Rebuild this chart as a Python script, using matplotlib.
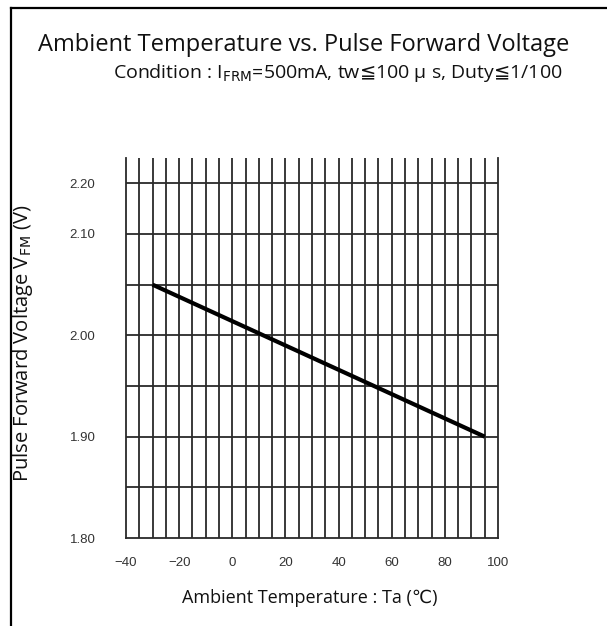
"""
Ambient temperature vs. pulse forward voltage (datasheet style chart)
"""

import numpy as np
import matplotlib
matplotlib.use('Agg')
import matplotlib.pyplot as plt
from matplotlib.lines import Line2D

# data
temp_ta   = [-30, 95]
volt_vfm  = [2.05, 1.90]

x_ticks   = [-40, -20, 0, 20, 40, 60, 80, 100]
y_ticks   = [1.80, 1.90, 2.00, 2.10, 2.15]
y_labels  = ['1.80', '1.90', '2.00', '2.10', '2.20']

# figure and axes parameters (pixels at dpi 100)
dpi        = 100
fig_w, fig_h = 607, 626
ax_left, ax_right = 126, 498
ax_top, ax_bottom = 158, 538
txt_fam    = ['Open Sans', 'DejaVu Sans', 'Noto Sans CJK JP']
tick_fam   = ['Liberation Sans Narrow', 'Liberation Sans']

plt.rcParams['mathtext.fontset'] = 'dejavusans'

fig = plt.figure(figsize=(fig_w/dpi, fig_h/dpi), dpi=dpi)
ax = fig.add_axes([ax_left/fig_w, 1.0 - ax_bottom/fig_h,
                   (ax_right-ax_left)/fig_w, (ax_bottom-ax_top)/fig_h])

ax.set_xlim(-40, 100)
ax.set_ylim(1.80, 2.175)

# grid every 5 degC and every 0.05 V
for xv in np.arange(-35, 100, 5):
    ax.axvline(xv, color='#2a2a2a', lw=1.3, zorder=1)
for yv in np.arange(1.85, 2.16, 0.05):
    ax.axhline(yv, color='#2a2a2a', lw=1.3, zorder=1)

ax.plot(temp_ta, volt_vfm, color='black', lw=3.0, solid_capstyle='butt', zorder=3)

for side in ['left', 'right', 'bottom']:
    ax.spines[side].set_color('#2a2a2a')
    ax.spines[side].set_linewidth(1.3)
ax.spines['top'].set_visible(False)

ax.set_xticks(x_ticks)
ax.set_xticklabels(['\u221240', '\u221220', '0', '20', '40', '60', '80', '100'],
                   family=tick_fam, fontsize=9.5, color='#333333')
ax.set_yticks(y_ticks)
ax.set_yticklabels(y_labels, family=tick_fam, fontsize=9.5, color='#333333')
ax.tick_params(length=0, pad=14)
ax.tick_params(axis='y', pad=22)

fig.text(0.5, 1.0 - 45/fig_h, 'Ambient Temperature vs. Pulse Forward Voltage',
         ha='center', va='center', fontsize=17, family=txt_fam, color='#111111')
fig.text(563/fig_w, 1.0 - 73/fig_h,
         'Condition : I$_{\\rm FRM}$=500mA, tw$\u2266$100 \u03bc s, Duty$\u2266$1/100',
         ha='right', va='center', fontsize=14, family=txt_fam, color='#111111')
fig.text(310/fig_w, 1.0 - 598/fig_h, 'Ambient Temperature : Ta (\u2103)',
         ha='center', va='center', fontsize=13, family=txt_fam, color='#111111')
fig.text(23/fig_w, 1.0 - 343/fig_h, 'Pulse Forward Voltage V$_{\\rm FM}$ (V)',
         ha='center', va='center', rotation=90, fontsize=14.5, family=txt_fam,
         color='#111111')

# frame of the datasheet panel
fig.add_artist(Line2D([11/fig_w, 11/fig_w], [0, 1.0 - 8/fig_h],
                      transform=fig.transFigure, color='black', lw=1.6))
fig.add_artist(Line2D([11/fig_w, 1.0], [1.0 - 8/fig_h, 1.0 - 8/fig_h],
                      transform=fig.transFigure, color='black', lw=1.6))

fig.savefig('out.png', dpi=dpi)
